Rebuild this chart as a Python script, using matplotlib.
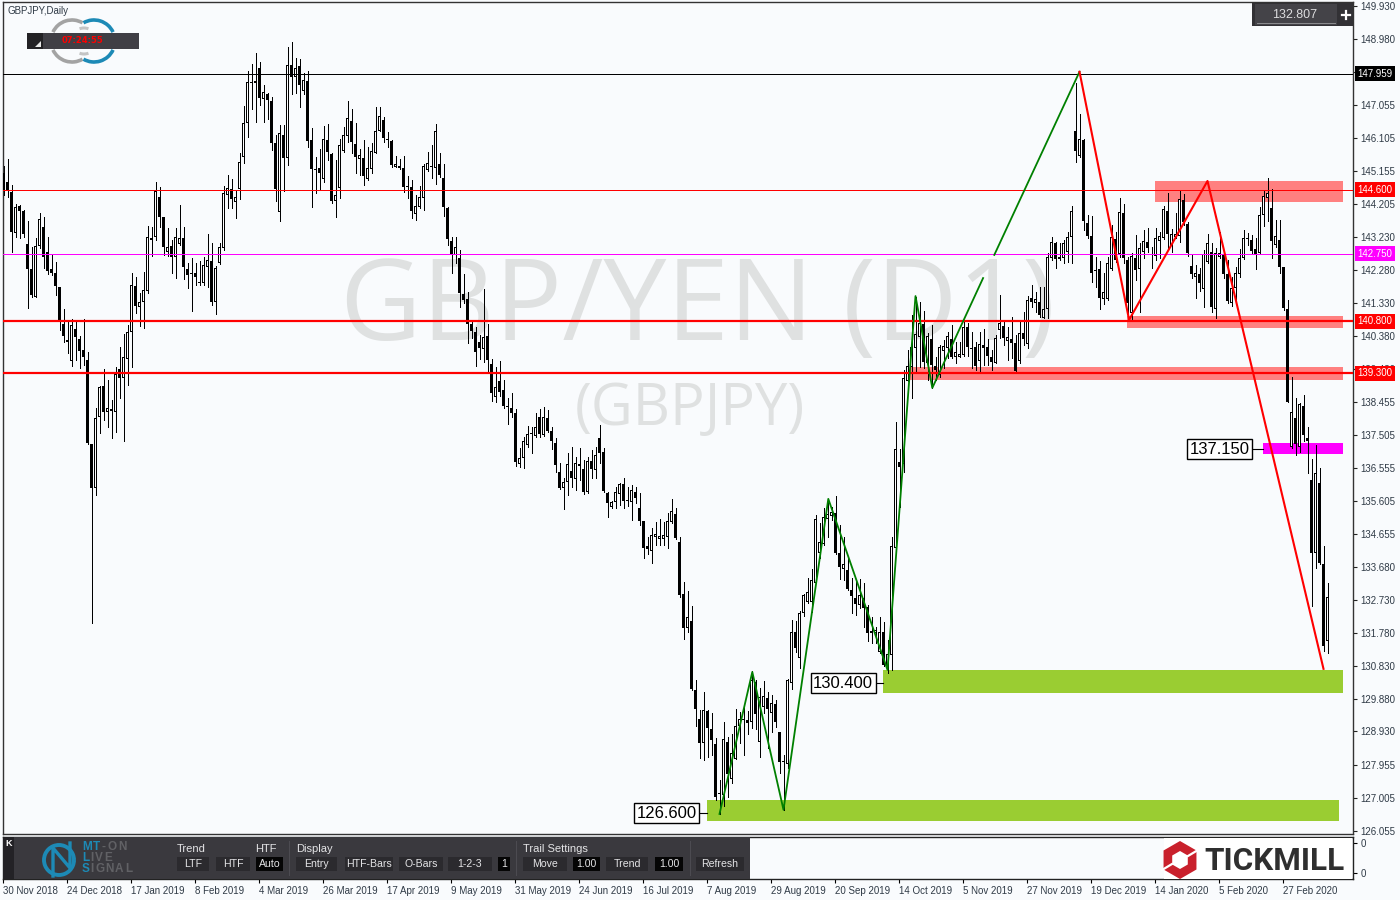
import matplotlib
matplotlib.use('Agg')
import matplotlib.pyplot as plt
from matplotlib.patches import Rectangle, Arc, Polygon, RegularPolygon
import numpy as np

# GBPJPY daily candles, oldest first
opens = [145.09,144.83,144.54,143.36,144.14,143.99,143.04,142.32,141.50,142.98,
143.53,142.81,142.32,142.20,141.79,140.72,140.26,139.65,140.58,140.29,
139.97,139.68,137.25,135.98,138.03,138.93,138.18,138.26,138.18,139.42,
139.16,139.71,140.49,141.82,141.22,141.36,141.68,143.21,143.24,144.40,
143.82,142.81,142.98,142.66,143.04,143.21,142.32,142.20,142.20,141.94,
141.91,142.37,142.55,141.36,142.49,142.92,144.46,144.63,144.25,144.63,
145.56,146.54,147.70,147.70,148.13,147.23,147.38,147.18,145.96,143.96,
146.19,145.53,148.22,147.87,148.19,147.47,147.76,146.05,145.18,145.24,
144.92,146.05,145.64,144.28,144.66,145.73,146.16,146.60,145.93,145.50,
145.53,144.92,145.21,145.67,146.31,146.63,146.08,146.02,145.27,145.30,
145.24,144.72,144.69,143.91,144.11,144.37,145.18,145.30,145.24,145.35,
144.95,144.08,143.13,142.72,142.63,141.59,141.45,140.72,140.49,140.20,
140.00,140.38,139.57,138.61,139.07,138.81,138.35,138.29,138.15,136.67,
136.85,137.22,137.54,137.48,138.03,137.51,138.00,137.63,137.28,136.44,
135.98,136.15,136.47,136.24,136.67,136.53,135.86,136.76,136.50,137.42,
137.02,135.83,135.43,135.57,135.80,136.09,135.63,135.57,135.86,135.40,
135.02,134.30,134.15,134.56,134.50,134.50,134.56,134.99,135.22,134.41,
132.91,131.93,132.13,130.13,129.29,128.60,129.52,129.00,128.57,127.15,
127.09,128.63,127.56,128.13,129.09,129.29,129.26,129.21,130.36,128.63,
129.64,129.90,129.47,129.73,128.92,128.08,127.99,130.33,131.81,131.06,
132.36,132.68,132.68,133.23,134.10,134.36,135.08,135.17,135.25,134.10,
133.63,133.60,133.03,132.79,132.59,132.79,132.53,131.84,131.78,131.23,
131.81,130.77,131.14,134.24,136.73,136.67,139.07,139.48,140.03,140.35,
140.72,139.59,140.29,139.51,139.25,139.94,140.03,140.29,139.77,139.77,
139.83,140.64,140.03,140.06,139.65,140.12,140.06,139.77,139.59,140.55,
140.67,140.23,140.29,140.17,139.65,140.46,140.14,141.48,141.33,141.36,
140.90,141.16,142.63,143.07,142.66,142.63,142.81,143.24,146.31,145.59,
146.05,143.65,143.27,142.29,142.32,141.45,141.45,142.32,143.18,142.75,
143.94,142.58,141.04,142.63,142.32,142.81,143.10,142.75,142.69,143.13,
143.21,143.99,142.98,143.24,143.27,144.31,143.62,142.40,142.08,142.17,
141.74,142.52,142.81,141.16,142.66,142.72,142.17,141.33,141.77,142.17,
142.63,143.18,143.15,142.89,142.78,143.88,144.37,144.08,143.01,143.15,
142.37,141.16,137.16,138.00,137.16,138.35,137.42,136.21,134.10,136.12,133.78,131.55]

closes = [144.60,144.57,143.39,144.11,143.99,143.33,142.32,141.56,142.98,143.76,
142.66,142.26,142.20,141.82,140.84,140.38,140.20,140.69,140.35,139.94,
139.77,137.28,135.98,138.00,138.90,138.18,138.29,138.21,139.28,139.16,
139.77,140.49,141.85,141.24,141.36,141.71,143.24,143.15,144.57,143.82,
142.95,142.95,142.66,143.24,143.21,142.37,142.14,142.17,142.08,141.91,
142.43,142.58,141.36,142.34,142.95,144.51,144.66,144.34,144.40,145.41,
146.54,147.73,147.73,147.76,147.26,147.44,147.21,145.96,144.63,146.25,
145.53,148.22,147.87,148.13,147.64,147.78,146.02,145.21,145.17,145.09,
146.08,145.70,144.28,144.46,145.90,146.19,146.69,145.99,145.56,145.61,
145.01,145.24,145.73,146.31,146.74,146.11,146.05,145.32,145.35,145.24,
144.69,144.69,143.99,144.14,144.40,145.30,145.38,145.27,146.31,145.04,
144.11,143.18,142.75,142.95,141.62,141.42,140.72,140.52,139.91,140.03,
140.35,139.68,138.73,138.90,138.76,138.35,138.32,138.15,136.73,136.85,
137.34,137.54,137.57,137.74,137.54,138.03,137.63,137.34,136.64,135.98,
136.15,136.67,136.27,136.70,136.61,135.86,136.76,136.53,136.93,136.99,
135.89,135.54,135.57,135.86,136.09,135.60,135.60,135.92,135.69,135.02,
134.24,134.21,134.62,134.65,134.59,134.62,135.02,135.31,134.53,132.88,
131.93,132.24,130.16,129.58,128.60,129.55,129.03,128.68,127.03,127.12,
128.71,127.70,128.31,129.09,129.29,129.26,129.18,130.42,129.44,129.93,
129.96,129.58,129.76,129.21,128.05,128.05,130.42,131.81,131.35,132.36,
132.88,132.97,133.31,135.08,134.41,135.14,135.22,135.28,134.10,133.69,
133.78,133.05,132.85,132.62,132.88,132.50,131.78,131.78,131.87,131.81,
130.86,131.17,134.30,137.11,136.59,139.16,139.51,140.06,140.43,140.75,
139.62,140.38,139.54,139.39,140.06,140.09,140.38,139.77,139.91,139.86,
140.64,140.06,140.00,139.51,140.14,140.03,139.80,139.62,140.32,140.75,
140.32,140.35,140.17,139.36,140.46,140.29,141.42,141.36,141.45,140.98,
141.16,142.66,143.10,142.60,142.60,143.07,143.24,143.99,145.73,146.08,
143.70,143.27,142.20,142.26,141.48,141.65,142.49,143.24,142.58,143.96,
142.63,141.33,142.69,142.29,142.92,143.13,142.92,142.72,143.21,143.27,
144.05,143.33,143.33,143.33,144.34,143.68,142.78,142.17,142.20,141.91,
142.75,143.07,141.22,142.78,142.78,142.17,141.39,141.77,142.20,142.63,
143.21,143.21,142.84,142.75,143.88,144.43,144.51,143.13,143.27,142.37,
141.19,138.47,138.18,137.25,138.41,137.51,137.34,134.10,136.41,133.81,131.41,132.81]

highs = [145.30,145.50,144.75,144.20,144.17,144.02,143.70,142.95,143.21,143.94,
143.82,143.24,142.72,142.52,141.79,141.16,140.78,140.87,140.78,140.38,
140.87,139.91,137.25,138.29,138.93,139.42,139.10,138.52,139.48,140.06,
140.43,140.69,142.20,142.08,141.62,142.23,143.56,143.53,144.83,144.69,
143.82,143.50,143.15,143.50,144.17,143.53,142.49,142.63,142.49,142.55,
142.66,143.33,143.07,142.40,143.07,144.72,145.04,144.92,144.60,145.67,
147.03,148.05,148.25,148.57,148.31,147.64,147.41,147.29,146.19,146.48,
146.48,148.74,148.88,148.42,148.39,147.99,148.05,146.40,145.56,145.79,
146.45,146.51,145.67,145.47,146.08,146.42,147.18,146.95,146.54,145.79,
146.05,145.85,145.96,147.00,147.00,146.71,146.28,146.05,145.59,145.50,
145.59,145.01,144.89,144.46,144.72,145.35,145.70,145.90,146.51,145.67,
145.35,144.11,143.24,143.24,142.86,142.17,141.65,140.78,140.64,140.41,
141.74,140.72,139.71,139.48,139.65,139.10,138.58,138.73,138.26,137.13,
137.45,137.77,137.74,138.15,138.26,138.32,138.23,137.74,137.42,136.70,
136.27,136.99,137.16,136.87,137.13,136.79,136.87,137.08,137.16,137.80,
137.13,135.86,135.60,136.01,136.12,136.27,136.01,136.06,136.01,135.83,
135.02,134.56,134.82,134.99,135.08,134.99,135.25,135.66,135.40,134.56,
133.26,133.00,132.56,130.42,129.55,130.07,129.55,129.47,128.74,127.53,
129.21,128.77,128.86,129.58,129.49,129.64,129.52,130.68,130.42,130.19,
130.39,130.07,129.99,129.84,128.92,128.25,130.45,132.16,132.13,132.42,
132.91,133.37,133.63,135.20,134.96,135.40,135.66,135.43,135.75,134.91,
134.56,134.01,133.37,133.31,133.34,133.23,132.59,132.24,131.95,132.24,
132.10,131.58,134.56,137.89,137.11,139.39,139.97,140.98,141.50,141.36,
141.10,140.46,140.69,139.77,140.12,140.26,140.49,140.69,140.20,140.20,
140.78,140.75,140.49,140.20,140.49,140.58,140.29,139.97,140.41,141.56,
140.78,140.64,140.93,140.41,140.78,141.07,141.53,141.85,141.65,141.79,
141.79,142.78,143.24,143.10,143.07,143.15,143.39,144.14,147.70,146.80,
146.08,143.88,143.85,142.66,142.55,142.20,142.66,143.59,143.39,144.37,
144.20,142.66,142.78,143.30,143.07,143.44,143.50,142.95,143.50,143.39,
144.14,144.51,143.47,143.94,144.57,144.49,143.68,142.72,142.43,142.34,
142.86,143.33,143.07,142.92,143.39,142.86,142.58,142.08,142.37,142.89,
143.44,143.36,143.30,143.21,144.11,144.57,144.95,144.63,143.73,143.73,
142.37,141.42,139.19,138.58,138.44,138.67,137.74,136.82,137.22,136.56,134.30,133.23]

lows = [144.46,144.40,142.81,143.24,143.21,143.24,141.19,141.50,141.50,142.92,
142.34,142.17,142.14,141.56,140.55,140.20,139.88,139.51,139.68,139.45,
139.54,137.25,132.07,135.77,137.57,137.95,137.74,137.42,137.60,138.58,
137.34,138.96,139.48,141.04,140.67,140.61,141.62,142.69,143.15,143.53,
142.72,142.69,142.20,142.05,143.01,142.03,141.77,141.10,141.85,141.85,
141.85,141.79,141.27,141.01,142.46,142.86,144.08,144.08,143.79,144.34,
145.38,146.14,146.95,146.57,147.06,146.57,146.66,145.76,144.28,143.70,
144.57,145.32,147.38,147.41,147.00,147.38,145.85,144.11,144.51,144.60,
144.83,145.47,144.23,143.82,144.37,145.70,145.99,145.67,145.09,145.04,
144.75,144.89,145.09,145.67,146.31,145.99,145.85,145.27,145.27,145.21,
144.54,144.37,143.79,143.73,144.08,144.02,145.15,144.95,144.78,144.98,
143.85,143.01,142.20,142.49,141.22,141.33,140.17,140.32,139.51,139.71,
139.62,139.33,138.50,138.47,138.64,138.29,137.83,138.03,136.61,136.59,
136.56,137.16,136.99,137.45,137.45,137.48,137.60,137.11,136.44,135.95,
135.37,135.77,136.01,135.92,136.21,135.80,135.83,136.27,136.27,136.70,
135.86,135.14,135.40,135.40,135.49,135.40,135.46,135.05,135.54,134.91,
133.95,134.07,133.81,134.33,134.33,134.33,134.24,134.96,134.50,132.82,
131.61,131.81,130.13,129.09,128.16,128.11,128.19,128.25,126.95,126.54,
126.77,127.03,127.44,128.13,128.60,128.25,128.86,129.03,129.00,128.19,
129.47,128.45,128.92,129.06,127.73,126.66,127.87,130.16,131.23,130.77,
132.27,132.65,132.39,133.23,133.95,134.33,134.56,135.05,134.07,133.34,
133.31,133.03,132.36,132.30,132.50,131.95,131.55,131.49,131.49,131.20,
130.83,130.62,130.71,134.18,135.43,136.44,139.07,138.58,139.33,139.48,
139.45,139.10,138.87,139.10,139.19,139.45,139.74,139.74,139.59,139.77,
139.80,139.80,139.45,139.39,139.33,139.54,139.54,139.39,139.59,140.32,
140.12,139.68,139.74,139.33,139.59,140.12,140.03,141.22,141.07,140.93,
140.90,140.90,142.58,142.34,142.58,142.49,142.52,142.49,145.41,145.56,
143.44,143.21,141.94,141.79,141.16,141.30,141.42,142.29,142.52,142.66,
142.49,140.95,140.84,142.00,141.07,142.63,142.81,142.34,142.58,142.63,
143.18,142.92,142.81,143.21,143.10,143.59,142.69,142.05,141.48,141.68,
141.22,142.49,141.07,140.90,142.63,142.05,141.33,141.24,141.36,142.08,
142.60,143.01,142.78,142.32,142.75,143.56,143.70,142.63,142.95,142.20,
141.13,138.47,137.13,136.93,137.02,137.34,136.41,132.56,133.66,133.78,131.26,131.20]

# price scale and date scale
price_ticks = [149.930,148.980,148.005,147.055,146.105,145.155,144.205,143.230,142.280,
141.330,140.380,139.430,138.455,137.505,136.555,135.605,134.655,133.680,
132.730,131.780,130.830,129.880,128.930,127.955,127.005,126.055]
date_labels = ['30 Nov 2018','24 Dec 2018','17 Jan 2019','8 Feb 2019','4 Mar 2019','26 Mar 2019',
'17 Apr 2019','9 May 2019','31 May 2019','24 Jun 2019','16 Jul 2019','7 Aug 2019',
'29 Aug 2019','20 Sep 2019','14 Oct 2019','5 Nov 2019','27 Nov 2019','19 Dec 2019',
'14 Jan 2020','5 Feb 2020','27 Feb 2020']

# horizontal levels
level_prices = [147.959, 144.600, 142.750, 140.800, 139.300]
level_colors = ['black', 'red', 'magenta', 'red', 'red']
level_widths = [1, 1, 1, 2.2, 2.2]

# shaded zones: first bar, last bar, top, bottom
zone_start = [287.8, 280.8, 226.5, 314.8, 219.8, 175.8]
zone_end = [334.8, 334.8, 334.8, 334.8, 334.8, 333.8]
zone_top = [144.86, 140.95, 139.48, 137.28, 130.71, 126.95]
zone_bottom = [144.25, 140.61, 139.10, 136.96, 130.05, 126.34]
zone_colors = ['#ff8080', '#ff8080', '#ff8080', '#ff00ff', '#9acd32', '#9acd32']

# zigzag lines
green_bars_1 = [179, 187.2, 195, 206.2, 221, 228, 232.2, 244.9]
green_prices_1 = [126.54, 130.65, 126.66, 135.66, 130.71, 141.53, 138.87, 142.05]
green_bars_2 = [247.7, 269]
green_prices_2 = [142.72, 148.02]
red_bars = [269, 281.4, 301, 330]
red_prices = [148.02, 140.84, 144.86, 130.74]

# boxed price labels: centre bar, price, bar the connector runs to
tag_text = ['137.150', '130.400', '126.600']
tag_bars = [304.0, 209.9, 165.8]
tag_prices = [137.09, 130.33, 126.56]
tag_ends = [314.8, 219.8, 175.8]
tag_starts = [311.8, 217.7, 173.5]

BG = '#f9fbfd'
DARK = '#3a393e'
BTN = '#2b2a2e'
BLUE = '#1d8ab6'
plt.rcParams['font.family'] = ['Liberation Sans', 'DejaVu Sans']

fig = plt.figure(figsize=(14, 9), dpi=100, facecolor=BG)

def px_axes(left, top, right, bottom):
	return fig.add_axes([left/1400, 1-bottom/900, (right-left)/1400, (bottom-top)/900])

ax = px_axes(3, 2, 1353, 834)
panel = px_axes(3, 837, 1353, 879)
# overlay in pixel units for the terminal widgets
ui = fig.add_axes([0, 0, 1, 1], zorder=10)
ui.set_xlim(0, 1400)
ui.set_ylim(900, 0)
ui.axis('off')

# bars sit on pixel columns: one bar is 4 px wide
x0, x1 = (3-3.5)/4, (1353-3.5)/4
ax.set_facecolor(BG)
ax.set_xlim(x0, x1)
ax.set_ylim(125.96, 150.04)
ax.set_xticks([])
ax.yaxis.tick_right()
ax.set_yticks(price_ticks)
# 148.005 lies wholly under the 147.959 tag
ax.set_yticklabels(['' if p == 148.005 else '%.3f' % p for p in price_ticks], color='#2f3a46')
ax.tick_params(axis='y', length=3, width=0.8, labelsize=7, pad=2.5, color='#222222')
for s in ax.spines.values():
	s.set_color('#333333')
	s.set_linewidth(1)

# watermark behind the candles
ax.text(698, 340, 'GBP/YEN (D1)', transform=ui.transData, ha='center', va='baseline',
	fontsize=81, color='#dfe1e1', family='Open Sans', zorder=0.5)
ax.text(690, 425, '(GBPJPY)', transform=ui.transData, ha='center', va='baseline',
	fontsize=41.5, color='#dfe1e1', family='Open Sans', zorder=0.5)

for i in range(len(zone_start)):
	ax.add_patch(Rectangle((zone_start[i], zone_bottom[i]), zone_end[i]-zone_start[i],
		zone_top[i]-zone_bottom[i], facecolor=zone_colors[i], edgecolor='none', zorder=1))

# candles: wick, outer body 3 px wide, white core 1 px wide for rising days
idx = np.arange(len(opens))
o = np.array(opens)
c = np.array(closes)
px_price = (150.04-125.96)/832
ax.vlines(idx, lows, highs, colors='black', linewidth=0.72, antialiased=False, zorder=2)
bottoms = np.minimum(o, c)
heights = np.maximum(np.abs(c-o), px_price)
ax.bar(idx, heights, bottom=bottoms, width=0.75, color='black', linewidth=0, antialiased=False, zorder=3)
up = (c >= o) & (heights > 2.5*px_price)
ax.bar(idx[up], heights[up]-2*px_price, bottom=bottoms[up]+px_price, width=0.25, color='white',
	linewidth=0, antialiased=False, zorder=3.5)

for i in range(len(level_prices)):
	ax.axhline(level_prices[i], color=level_colors[i], linewidth=level_widths[i]*0.72, zorder=4)
	ax.text(1.0033, level_prices[i], '%.3f' % level_prices[i], transform=ax.get_yaxis_transform(),
		va='center', ha='left', fontsize=7, color='white', clip_on=False, zorder=7,
		bbox=dict(facecolor=level_colors[i], edgecolor='none', pad=1.8))

ax.plot(green_bars_1, green_prices_1, color='green', linewidth=1.3, zorder=5)
ax.plot(green_bars_2, green_prices_2, color='green', linewidth=1.3, zorder=5)
ax.plot(red_bars, red_prices, color='red', linewidth=1.5, zorder=5)

for i in range(len(tag_text)):
	ax.plot([tag_starts[i], tag_ends[i]], [tag_prices[i], tag_prices[i]], color='black', linewidth=0.8, zorder=6)
	ax.text(tag_bars[i], tag_prices[i], tag_text[i], ha='center', va='center', fontsize=12, color='black', zorder=7,
		bbox=dict(facecolor='white', edgecolor='black', linewidth=1, pad=1.8))

# lower panel with the date scale
panel.set_facecolor(BG)
panel.set_xlim(x0, x1)
panel.set_ylim(0, 1)
panel.set_xticks(np.arange(len(date_labels))*16-0.25)
panel.set_xticklabels(date_labels, ha='left', color='#2f3a46')
panel.tick_params(axis='x', length=3, width=0.8, labelsize=7, pad=2)
panel.yaxis.tick_right()
panel.set_yticks([0.143, 0.857])
panel.set_yticklabels(['0', '0'], color='#2f3a46')
panel.tick_params(axis='y', length=3, width=0.8, labelsize=7, pad=2.5)
for s in panel.spines.values():
	s.set_color('#222222')
	s.set_linewidth(1)

def box(x0, y0, x1, y1, color, z=11):
	ui.add_patch(Rectangle((x0, y0), x1-x0, y1-y0, facecolor=color, edgecolor='none', zorder=z))

def narrow(x, y, s, color='#e4e4e6', size=8, ha='center', **kw):
	ui.text(x, y, s, ha=ha, va='center', fontsize=size, color=color, zorder=13, **kw)

# top-left symbol, logo and clock
ui.text(7, 10.5, 'GBPJPY,Daily', ha='left', va='center', fontsize=7, color='#2f3a46')
for cx, th, col in [(72, (205, 300), '#a3a3a3'), (72, (60, 155), '#a3a3a3'),
		(94, (240, 335), BLUE), (94, (25, 120), BLUE)]:
	ui.add_patch(Arc((cx, 41), 42, 42, theta1=th[0], theta2=th[1], color=col, linewidth=2.6, zorder=9))
ui.add_patch(Arc((84, 41), 26, 26, theta1=250, theta2=290, color='#c4c4c4', linewidth=2.2, zorder=9))
ui.add_patch(Arc((84, 41), 26, 26, theta1=70, theta2=110, color='#c4c4c4', linewidth=2.2, zorder=9))
box(27, 33, 139, 49, '#403f45')
box(27, 33, 43, 49, '#232225', 12)
ui.add_patch(Polygon([[35, 47], [41, 47], [41, 41]], facecolor='#e8e8e8', edgecolor='none', zorder=13))
ui.text(82, 40.5, '07:24:55', ha='center', va='center', fontsize=6, color='red', fontweight='bold',
	family='DejaVu Sans', zorder=13)

# top-right price widget
box(1252, 3, 1353, 26, '#323135')
box(1255, 4, 1337, 25, '#444348', 12)
ui.plot([1257, 1335], [22.5, 22.5], color='#8d8d90', linewidth=0.7, zorder=13)
ui.text(1295, 14.5, '132.807', ha='center', va='center', fontsize=9, color='#dcdcde', zorder=13)
ui.plot([1342, 1350], [15, 15], color='white', linewidth=1.6, zorder=13)
ui.plot([1346, 1346], [11, 19], color='white', linewidth=1.6, zorder=13)

# control panel
box(3, 837, 750, 879, DARK)
box(3, 837, 14, 879, '#232226', 12)
ui.text(8.5, 844, 'K', ha='center', va='center', fontsize=6.5, color='white', fontweight='bold', zorder=13)
ui.add_patch(Arc((59, 860), 30, 30, theta1=0, theta2=360, color=BLUE, linewidth=2.8, zorder=13))
ui.plot([53, 53, 70, 70], [876, 848, 868, 843], color=BLUE, linewidth=2.4, zorder=13)
# logo words with wide letter spacing, first letters in blue
advance = {'I': 4.5, 'M': 11, 'T': 9, '-': 6, 'S': 8.5, 'L': 8.5, 'V': 9}
for yp, word, n_blue in [(847, 'MT-ON', 2), (858, 'LIVE', 1), (869, 'SIGNAL', 1)]:
	xp = 82
	for k, ch in enumerate(word):
		col = BLUE if k < n_blue else '#616165'
		ui.text(xp, yp, ch, ha='left', va='center', fontsize=8.5, color=col, fontweight='bold', zorder=13)
		xp += advance.get(ch, 10)

for xp, s in [(177, 'Trend'), (255, 'HTF'), (296, 'Display'), (523, 'Trail Settings')]:
	narrow(xp, 849, s, ha='left', size=8)
btn_names = ['LTF', 'HTF', 'Auto', 'Entry', 'HTF-Bars', 'O-Bars', '1-2-3', '1', 'Move', '1.00', 'Trend', '1.00', 'Refresh']
btn_left = [177, 216, 256, 296, 345, 399, 448, 498, 523, 573, 606, 655, 696]
btn_right = [209, 250, 283, 337, 393, 443, 492, 510, 567, 600, 648, 683, 744]
btn_black = ['Auto', '1', '1.00']
for i in range(len(btn_names)):
	col = '#050505' if btn_names[i] in btn_black else BTN
	box(btn_left[i], 857, btn_right[i], 871, col, 12)
	narrow((btn_left[i]+btn_right[i])/2, 864, btn_names[i], size=7.6)
for xp in [289, 516, 690]:
	ui.plot([xp, xp], [841, 875], color='#4d4c52', linewidth=0.7, zorder=12)

# broker logo
box(1164, 837.5, 1352, 878.5, 'white')
ui.add_patch(RegularPolygon((1180, 860), 6, radius=19, facecolor='#c9202c', edgecolor='none', zorder=12))
ui.add_patch(RegularPolygon((1180, 860), 6, radius=9, facecolor='white', edgecolor='none', zorder=13))
ui.plot([1162, 1172], [870, 864], color='white', linewidth=1.6, zorder=13)
ui.plot([1188, 1198], [856, 850], color='white', linewidth=1.6, zorder=13)
ui.text(1204, 860.5, 'TICKMILL', ha='left', va='center', fontsize=22.7, color='#2f2f2f',
	family='Roboto', fontweight='bold', zorder=13)

plt.savefig('out.png', dpi=100, facecolor=BG)
